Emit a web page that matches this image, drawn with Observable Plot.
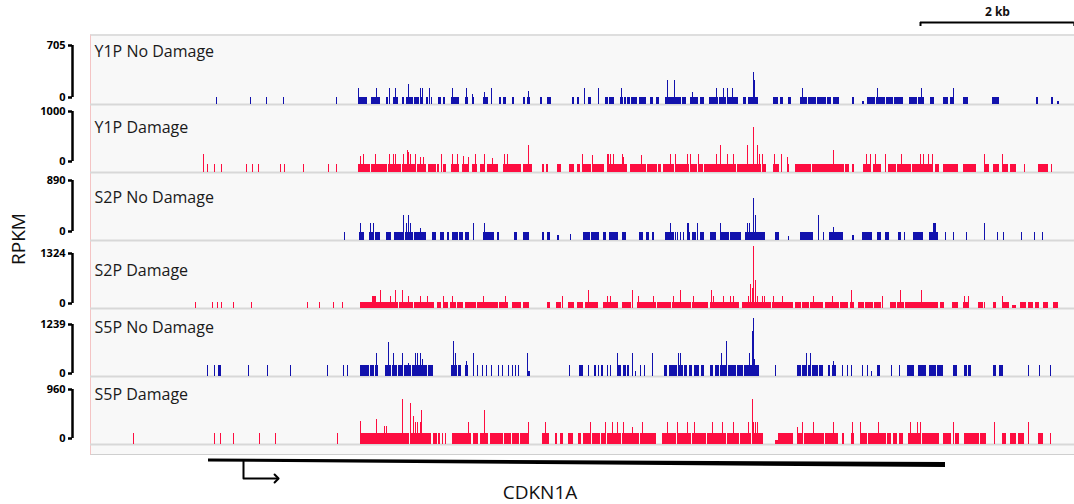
<!DOCTYPE html>
<html><head><meta charset="utf-8">
<script src="https://cdn.jsdelivr.net/npm/d3@7"></script>
<script src="https://cdn.jsdelivr.net/npm/@observablehq/plot@0.6"></script>
<style>
body{margin:0;background:#fff;font-family:"Open Sans",sans-serif;}
#root{position:relative;width:1074px;height:504px;overflow:hidden;background:#fff;}
.abs{position:absolute;}
svg{overflow:visible;}
</style></head><body><div id="root"></div>
<script>
// ---------- data ----------
const BIN_BP = 13;          // bp per coverage bin
const N_BINS = 984;         // bins across the locus
const trackNames = ["Y1P No Damage","Y1P Damage","S2P No Damage","S2P Damage","S5P No Damage","S5P Damage"];
const trackMax = [705, 1000, 890, 1324, 1239, 960];
const BLUE = "#1212ad", RED = "#fd0d40";
const trackColors = [BLUE, RED, BLUE, RED, BLUE, RED];

// entries: [bin, RPKM] or [startBin, endBin, RPKM]
const y1pNoDamage = [
 [126,70],[160,70],[176,70],[193,70],[246,70],
 [268,276,70],[281,289,70],[296,297,70],[303,307,70],[312,313,70],[316,322,70],[324,328,70],[330,332,70],[336,337,70],[341,70],[348,350,70],[353,354,70],[361,368,70],[375,377,70],[382,383,70],[393,397,70],[409,410,70],[413,415,70],[422,423,70],[433,434,70],[437,439,70],[450,451,70],[457,460,70],[482,483,70],[487,488,70],[498,500,70],[515,517,70],[519,523,70],[530,532,70],[534,535,70],[537,539,70],[541,546,70],[549,555,70],[560,562,70],[566,568,70],[575,583,70],[585,590,70],[592,595,70],[600,607,70],[610,613,70],[619,627,70],[629,635,70],[637,647,70],[653,655,70],[658,667,70],[683,687,70],[690,692,70],[698,700,70],[710,716,70],[718,725,70],[727,735,70],[737,740,70],[743,748,70],[762,763,70],[772,773,31],[777,784,70],[786,794,70],[796,802,70],[804,812,70],[819,826,70],[828,833,70],[840,843,70],[853,857,70],[860,863,70],[873,877,70],[902,908,70],[946,947,70],[961,962,70],[967,968,31],
 [268,163],[286,163],[299,163],[305,163],[318,207],[330,163],[332,163],[339,163],[362,163],[376,163],[382,104],[394,121],[401,163],[438,138],[494,163],[508,163],[531,163],[577,252],[584,252],[602,121],[626,163],[633,163],[637,163],[642,163],[663,335],[664,252],[712,163],[787,163],[831,163],[863,163]
];
const y1pDamage = [
 [113,260],[117,122],[124,122],[131,122],[156,122],[162,122],[168,122],[190,122],[194,122],[213,122],[238,122],[246,122],
 [268,279,122],[281,296,122],[298,310,122],[312,325,122],[327,335,122],[338,345,122],[347,348,122],[353,355,122],[361,368,122],[372,377,122],[382,386,122],[390,393,122],[397,407,122],[413,430,122],[433,441,122],[452,453,122],[456,457,122],[467,470,122],[479,483,122],[487,489,122],[492,500,122],[502,513,122],[517,536,122],[540,555,122],[557,566,122],[568,570,122],[573,583,122],[585,598,122],[600,606,122],[608,612,122],[614,625,122],[627,645,122],[647,670,122],[672,675,122],[683,688,122],[697,698,122],[705,720,122],[722,740,122],[741,753,122],[755,758,122],[762,763,122],[773,780,122],[783,790,122],[798,805,122],[807,820,122],[822,842,122],[845,848,122],[853,867,122],[873,885,122],[894,898,122],[903,908,122],[913,917,122],[920,925,122],[934,122],[948,957,122],[961,122],
 [270,230],[273,260],[285,260],[299,260],[303,260],[305,260],[313,260],[317,330],[318,294],[320,260],[325,260],[330,220],[333,220],[351,260],[362,260],[367,260],[373,240],[378,220],[385,260],[394,260],[402,200],[414,260],[417,260],[438,392],[492,260],[502,250],[517,260],[518,260],[520,260],[523,260],[532,260],[533,220],[551,250],[580,260],[585,260],[597,260],[600,260],[608,260],[626,260],[630,392],[637,260],[643,260],[657,392],[663,662],[667,392],[669,269],[672,260],[684,260],[691,260],[697,220],[743,328],[776,260],[780,260],[785,260],[795,260],[811,260],[830,260],[833,260],[838,260],[842,260],[894,260],[912,260]
];
const s2pNoDamage = [
 [254,109],
 [269,273,109],[279,283,109],[285,289,109],[296,300,109],[304,313,109],[315,322,109],[324,332,109],[333,335,109],[342,345,109],[350,353,109],[357,358,109],[362,367,109],[369,372,109],[375,378,109],[393,403,109],[407,408,109],[424,426,109],[433,438,109],[452,453,109],[457,459,109],[467,468,65],[480,78],[493,499,109],[501,508,109],[513,515,109],[519,527,109],[532,535,109],[549,552,109],[556,558,109],[562,563,109],
 [575,583,109],[585,109],[587,109],[590,109],[593,109],[597,599,109],[602,605,109],[607,109],[610,613,109],[620,625,109],[630,638,109],[640,650,109],[655,658,109],[660,674,109],
 [685,688,109],[698,52],[710,722,109],[733,109],[739,752,109],[762,763,60],[772,781,109],[787,790,109],[795,798,109],[808,810,109],[814,109],[823,832,109],[839,847,109],[855,109],[863,109],[876,109],[907,109],[913,109],[931,109],[944,109],[952,109],
 [270,218],[280,218],[283,218],[313,327],[316,218],[318,327],[320,218],[330,153],[383,218],[394,218],[580,218],[597,218],[598,218],[607,218],[630,218],[657,218],[659,218],[663,546],[665,327],[728,327],[743,170],[843,218],[844,218],[845,218],[894,218]
];
const s2pDamage = [
 [105,115],[122,115],[127,115],[131,115],[143,115],[161,115],[217,115],[229,115],[243,115],[252,115],
 [270,292,115],[293,307,115],[309,322,115],[324,329,115],[331,336,115],[338,343,115],[347,350,115],[353,357,115],[360,365,115],[367,372,115],[375,385,115],[387,397,115],[398,407,115],[409,417,115],[422,430,115],[433,438,115],[457,459,115],[466,470,115],[478,483,115],[487,492,115],[495,507,115],[513,527,115],[532,540,115],[547,565,115],[567,580,115],[582,600,115],[602,617,115],[620,648,115],[652,680,115],[682,702,115],
 [705,710,115],[712,718,115],[720,732,115],[735,748,115],[750,757,115],[760,763,115],[768,773,115],[775,782,115],[784,790,115],[800,805,115],[807,813,115],[815,832,115],[833,842,115],[843,847,115],[850,853,115],[862,867,115],[873,878,115],[888,892,115],[894,115],[903,905,115],[913,918,115],[922,925,60],[930,935,115],[938,942,115],[945,948,115],[953,957,115],[963,967,115],
 [282,228],[283,228],[284,228],[285,228],[290,345],[300,228],[305,345],[312,345],[318,228],[330,228],[337,228],[353,228],[362,228],[393,228],[415,228],[472,228],[498,345],[517,228],[520,228],[542,345],[548,228],[563,228],[583,228],[590,345],[603,228],[621,345],[623,228],[633,228],[640,228],[643,228],[658,228],[660,473],[662,390],[663,1201],[665,545],[667,228],[672,228],[674,228],[683,228],[692,228],[723,228],[742,228],[761,356],[792,228],[810,356],[831,356],[874,228],[878,228],[912,228]
];
const s5pNoDamage = [
 [117,200],[124,200],[128,130,200],[158,200],[177,200],[200,200],[237,200],[253,200],[257,200],
 [270,278,200],[280,283,200],[285,287,200],[295,300,200],[302,306,200],[308,312,200],[314,320,200],[322,329,200],[331,336,200],[338,342,200],[361,366,200],[368,370,200],[375,377,200],
 [387,200],[392,200],[396,200],[401,200],[408,200],[412,200],[418,200],[422,200],[425,200],[428,200],[438,439,90],
 [479,200],[489,492,200],[498,200],[504,505,200],[508,200],[511,512,200],[517,200],[520,200],[527,530,200],[533,535,200],[537,538,200],[545,90],[550,200],[554,200],
 [574,576,200],[579,582,200],[583,586,200],[588,592,200],[594,596,200],[599,601,200],[604,608,200],[611,613,200],[620,622,200],[625,628,200],[630,636,200],[638,645,200],[647,652,200],[654,668,200],
 [685,200],[707,710,200],[712,716,200],[718,720,200],[722,727,200],[729,732,200],[738,739,200],[742,745,200],[752,200],[757,200],[761,200],[772,200],[777,200],[781,90],[787,789,200],[801,200],[809,200],[817,823,200],[828,835,200],[839,845,200],[847,852,200],[863,866,200],[874,876,200],[878,880,200],[903,905,200],[909,912,200],[938,200],[949,200],[960,200],
 [286,413],[298,625],[303,413],[312,413],[318,230],[325,413],[327,413],[330,413],[332,310],[363,637],[365,413],[376,267],[383,413],[437,413],[527,413],[542,413],[562,413],[588,413],[590,413],[631,413],[636,637],[659,413],[662,820],[663,1050],[664,310],[716,413],[720,413],[743,273]
];
const s5pDamage = [
 [43,155],[124,155],[130,155],[143,155],[169,155],[185,155],[247,155],
 [270,285,155],[287,293,155],[294,310,155],[311,318,155],[320,330,155],[332,340,155],[343,346,155],[348,349,155],[352,155],[355,155],[362,380,155],[383,387,155],[390,397,155],[400,412,155],[414,420,155],[422,428,155],[430,437,155],[452,458,155],[465,466,155],[470,472,155],[478,482,155],[488,490,155],[493,500,155],[502,509,155],[511,515,155],[517,530,155],[532,548,155],[550,565,155],
 [572,585,155],[587,600,155],[602,615,155],[617,635,155],[637,648,155],[650,660,155],[662,672,155],[685,687,56],[688,702,155],[707,712,155],[714,722,155],[724,733,155],[735,747,155],[752,753,155],[761,763,155],[770,776,155],[778,787,155],[788,795,155],[797,800,155],[803,806,155],[809,812,155],[818,830,155],[832,848,155],[853,860,155],[863,155],[865,868,155],[874,888,155],[890,895,155],[904,155],[912,915,155],[920,925,155],[928,933,155],[938,155],[948,952,155],[960,155],
 [270,320],[286,352],[294,254],[296,254],[312,635],[320,578],[323,400],[325,310],[327,310],[330,310],[331,480],[378,315],[394,480],[438,310],[455,310],[500,310],[515,310],[522,310],[527,310],[533,310],[542,240],[552,310],[577,310],[587,310],[597,310],[604,310],[622,310],[632,310],[643,310],[658,310],[662,635],[663,310],[665,310],[667,310],[707,235],[712,310],[723,310],[743,310],[762,310],[770,310],[788,310],[820,310],[827,310],[830,310],[863,310],[904,310],[938,310]
];
const trackData = [y1pNoDamage, y1pDamage, s2pNoDamage, s2pDamage, s5pNoDamage, s5pDamage];

const scaleBar = {label: "2 kb", start: 10790, length: 2000};
const gene = {name: "CDKN1A", start: 1534, end: 11115, tss: 1989, arrowLen: 430};

// ---------- layout ----------
const PANEL_LEFT = 90, PANEL_TOP = 36, TRACK_H = 68, PANEL_W = 984;
const labelOffsets = [15, 23, 25, 30, 19, 18];
const bracketPx = [[45,97],[111,161],[180,231],[253,303],[324,373],[389,438]];
const root = document.getElementById("root");
const xDomain = [0, N_BINS * BIN_BP];

function place(el, left, top){ el.classList.add("abs"); el.style.left = left+"px"; el.style.top = top+"px"; root.appendChild(el); return el; }

// panel background
const bg = document.createElement("div");
Object.assign(bg.style, {width: PANEL_W+"px", height: (6*TRACK_H+13)+"px", background: "#f8f8f8",
  borderTop: "2px solid #dedede", borderBottom: "1px solid #cfcfcf", borderLeft: "1px solid #f4c4c4", boxSizing: "border-box"});
place(bg, PANEL_LEFT, PANEL_TOP - 2);

function toRows(arr){
  return arr.map(e => e.length === 2
    ? {x1: e[0]*BIN_BP, x2: (e[0]+1)*BIN_BP, y0: 0, v: e[1]}
    : {x1: e[0]*BIN_BP, x2: (e[1]+1)*BIN_BP, y0: 0, v: e[2]});
}

trackNames.forEach((name, i) => {
  const rows = toRows(trackData[i]).sort((a,b) => a.v - b.v);
  const p = Plot.plot({
    width: PANEL_W, height: TRACK_H, margin: 0,
    x: {domain: xDomain, axis: null},
    y: {domain: [0, trackMax[i]], axis: null},
    style: {background: "transparent", overflow: "visible"},
    marks: [
      Plot.ruleY([0], {stroke: "#d8d8d8", strokeWidth: 2}),
      Plot.rect(rows, {x1: "x1", x2: "x2", y1: "y0", y2: "v", fill: trackColors[i], shapeRendering: "crispEdges"}),
      Plot.text([name], {text: d => d, frameAnchor: "top-left", dx: 4, dy: labelOffsets[i], lineAnchor: "middle",
        fontSize: 16, fill: "#1a1a1a", fontFamily: "Open Sans"})
    ]
  });
  place(p, PANEL_LEFT, PANEL_TOP + i*TRACK_H);

  const [t, b] = bracketPx[i];
  const br = Plot.plot({
    width: 90, height: (b - t) + 20, marginTop: 10, marginBottom: 10, marginLeft: 72, marginRight: 0,
    x: {domain: [0, 1], axis: null},
    y: {domain: [0, trackMax[i]], axis: null},
    style: {background: "transparent", overflow: "visible", fontWeight: "bold", fontSize: "11px", fontFamily: "Open Sans", color: "#000"},
    marks: [
      Plot.ruleX([{x: 0, y1: 0, y2: trackMax[i]}], {x: "x", y1: "y1", y2: "y2", stroke: "#000", strokeWidth: 2.5}),
      Plot.axisY([0, trackMax[i]], {anchor: "left", tickSize: 4, tickPadding: 3, strokeWidth: 2.5, label: null,
        fontWeight: "bold", fontSize: 11, tickFormat: d => String(d)})
    ]
  });
  place(br, 0, t - 10);
});

// scale bar
const sb = Plot.plot({
  width: PANEL_W, height: 34, margin: 0,
  x: {domain: xDomain, axis: null},
  y: {domain: [0, 1], range: [22, 26], axis: null},
  style: {background: "transparent", overflow: "visible"},
  marks: [
    Plot.ruleY([scaleBar], {x1: d => d.start, x2: d => d.start + d.length, y: 0, stroke: "#000", strokeWidth: 2}),
    Plot.ruleX([scaleBar.start, scaleBar.start + scaleBar.length], {x: d => d, y1: 0, y2: 1, stroke: "#000", strokeWidth: 2}),
    Plot.text([scaleBar], {x: d => d.start + d.length/2, frameAnchor: "top", dy: 12, text: d => d.label, lineAnchor: "middle",
      fontSize: 12, fontWeight: "bold", fill: "#111", fontFamily: "Open Sans"})
  ]
});
place(sb, PANEL_LEFT, 0);

// gene model
const geneShape = [{x: gene.start, a: 13.5, b: 16.5}, {x: gene.end, a: 17, b: 22}];
const tssArrow = [{x: gene.tss, y: 16}, {x: gene.tss, y: 33}, {x: gene.tss + gene.arrowLen, y: 33}];
const gp = Plot.plot({
  width: PANEL_W, height: 59, margin: 0,
  x: {domain: xDomain, axis: null},
  y: {domain: [0, 59], range: [0, 59], axis: null},
  style: {background: "transparent", overflow: "visible"},
  marks: [
    Plot.areaY(geneShape, {x: "x", y1: "a", y2: "b", fill: "#000"}),
    Plot.line(tssArrow, {x: "x", y: "y", stroke: "#000", strokeWidth: 2, markerEnd: "arrow"})
  ]
});
place(gp, PANEL_LEFT, 445);

// texts
const gl = document.createElement("div");
gl.textContent = gene.name;
Object.assign(gl.style, {fontSize: "19px", color: "#111", transform: "translate(-50%,-50%)", whiteSpace: "nowrap"});
place(gl, 540, 492);

const yl = document.createElement("div");
yl.textContent = "RPKM";
Object.assign(yl.style, {fontSize: "19px", color: "#111", transform: "translate(-50%,-50%) rotate(-90deg)", whiteSpace: "nowrap"});
place(yl, 18, 239);
</script></body></html>
